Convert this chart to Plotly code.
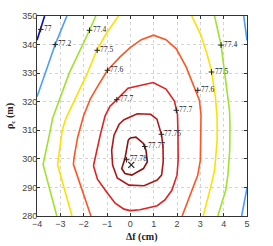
import plotly.graph_objects as go

# ---- contour data (Δf in cm, ρc in m) ----
c77_x = [-3.675, -4.0]
c77_y = [350, 341.5]

c772_left_x = [-2.72, -3.22, -4.0]
c772_left_y = [350, 340, 321.7]
c772_top_x = [4.86, 5.0]
c772_top_y = [350, 341.5]
c772_bot_x = [5.0, 4.77]
c772_bot_y = [289.8, 280]

c774_left_x = [-1.48, -1.75, -2.62, -3.33, -3.43, -3.55, -3.74, -3.15]
c774_left_y = [350, 345, 330, 314.2, 310, 305, 298, 280]
c774_right_x = [3.61, 3.89, 4.10, 4.25, 4.27, 4.26, 4.18, 4.09, 3.75]
c774_right_y = [350, 339.8, 326.4, 317, 311.8, 303, 294.3, 289.1, 280]

c775_left_x = [-0.51, -1.05, -1.44, -1.84, -2.76, -2.92, -3.12, -2.50]
c775_left_y = [350, 343.6, 338, 330, 314.2, 310, 298, 280]
c775_right_x = [2.63, 3.01, 3.29, 3.48, 3.65, 3.72, 3.72, 3.66, 3.61, 3.44, 3.12]
c775_right_y = [350, 343.6, 336.6, 330.7, 321.5, 314.2, 306.5, 299.5, 296, 290, 280]

c776_x = [-1.69, -2.19, -2.44, -2.41, -2.26, -2.01, -1.72, -1.37, -0.98, -0.44, -0.01,
          0.47, 0.99, 1.53, 1.97, 2.39, 2.75, 2.96, 3.03, 3.03, 3.00, 2.89, 2.59, 2.22]
c776_y = [280, 292.3, 298.1, 300.5, 307.5, 314.9, 320.9, 325.8, 331.0, 335.7, 338.9,
          341.7, 343.3, 341.7, 338.5, 332.2, 325.1, 320.5, 315.3, 307.6, 299.5, 294.3, 288.0, 280]

c777_x = [-1.58, -1.48, -1.29, -1.08, -0.87, -0.56, -0.10, 0.98, 1.53, 1.89, 2.02, 2.04,
          2.05, 2.00, 1.78, 1.48, 1.15, 0.41, -0.01, -0.27, -0.65, -1.01, -1.41, -1.58]
c777_y = [297.6, 301.6, 308.3, 315.1, 318.4, 320.9, 324.7, 326.7, 324.4, 320.2, 315.6, 310.0,
          299.5, 294.3, 289.0, 285.6, 283.6, 282.2, 281.9, 282.4, 284.5, 288.3, 292.9, 297.6]

c7775_x = [-0.06, 0.30, 0.87, 1.14, 1.34, 1.40, 1.41, 1.34, 1.15, 0.59, -0.06, -0.56,
           -0.76, -0.80, -0.70, -0.48, -0.27, -0.06]
c7775_y = [314.5, 315.8, 315.6, 313.9, 308.3, 304.1, 299.0, 294.3, 292.6, 290.6, 290.8, 293.3,
           297.8, 303.0, 308.3, 312.1, 313.7, 314.5]

c7777_x = [-0.01, 0.24, 0.56, 0.67, 0.73, 0.56, 0.06, -0.23, -0.37, -0.23, -0.09, -0.01]
c7777_y = [307.3, 307.6, 305.4, 303.0, 299.0, 296.6, 294.3, 294.9, 296.6, 300.1, 306.5, 307.3]

label_text = ["77", "77.2", "77.4", "77.5", "77.6", "77.7", "77.4", "77.5", "77.6", "77.7",
              "77.75", "77.77", "77.78"]
label_x = [-3.84, -3.22, -1.75, -1.42, -0.98, -0.58, 3.89, 3.48, 2.89, 1.97, 1.33, 0.62, -0.16]
label_y = [345.3, 340, 345, 338, 331, 320.7, 339.8, 330.4, 324, 317, 308.6, 304.3, 299.7]

opt_x = [0.04]
opt_y = [297.9]

x_ticks = [-4, -3, -2, -1, 0, 1, 2, 3, 4, 5]
y_ticks = [280, 290, 300, 310, 320, 330, 340, 350]

# ---- styles ----
col = {
    "77": "#0010c8",
    "77.2": "#4a9cff",
    "77.4": "#9fe22e",
    "77.5": "#ffe000",
    "77.6": "#ff5522",
    "77.7": "#e02222",
    "77.75": "#b01818",
    "77.77": "#8c1010",
}

fig = go.Figure()

def add_line(xs, ys, level):
    fig.add_trace(go.Scatter(x=xs, y=ys, mode="lines",
                             line=dict(color=col[level], width=1.6),
                             hoverinfo="skip", showlegend=False))

add_line(c77_x, c77_y, "77")
add_line(c772_left_x, c772_left_y, "77.2")
add_line(c772_top_x, c772_top_y, "77.2")
add_line(c772_bot_x, c772_bot_y, "77.2")
add_line(c774_left_x, c774_left_y, "77.4")
add_line(c774_right_x, c774_right_y, "77.4")
add_line(c775_left_x, c775_left_y, "77.5")
add_line(c775_right_x, c775_right_y, "77.5")
add_line(c776_x, c776_y, "77.6")
add_line(c777_x, c777_y, "77.7")
add_line(c7775_x, c7775_y, "77.75")
add_line(c7777_x, c7777_y, "77.77")

# label markers
fig.add_trace(go.Scatter(x=label_x, y=label_y, mode="markers",
                         marker=dict(symbol="cross-thin", size=4,
                                     line=dict(color="#222", width=1)),
                         hoverinfo="skip", showlegend=False))
fig.add_trace(go.Scatter(x=opt_x, y=opt_y, mode="markers",
                         marker=dict(symbol="x-thin", size=6,
                                     line=dict(color="#222", width=1.2)),
                         hoverinfo="skip", showlegend=False))

for t, lx, ly in zip(label_text, label_x, label_y):
    fig.add_annotation(x=lx, y=ly, text=t, showarrow=False, xanchor="left",
                       yanchor="middle", xshift=1, yshift=1,
                       font=dict(family="Liberation Serif", size=7.5, color="#222"))

axis_common = dict(showgrid=True, gridcolor="#d4d4d4", griddash="dot", gridwidth=1,
                   showline=True, linecolor="#333", linewidth=1, mirror="ticks",
                   ticks="inside", ticklen=3, tickcolor="#333", zeroline=False,
                   automargin=False,
                   tickfont=dict(family="Liberation Sans", size=9, color="#444"))

fig.update_xaxes(range=[-4, 5], tickvals=x_ticks,
                 ticktext=["\u2212" + str(-v) if v < 0 else str(v) for v in x_ticks],
                 ticklabelstandoff=-1, **axis_common)
fig.update_yaxes(range=[280, 350], tickvals=y_ticks, ticklabelstandoff=-3, **axis_common)

fig.add_annotation(xref="paper", yref="paper", x=0.5, y=0, yshift=-21, xanchor="center",
                   yanchor="middle", showarrow=False, text="<b>\u0394f (cm)</b>",
                   font=dict(family="Liberation Serif", size=10, color="#222"))
fig.add_annotation(xref="paper", yref="paper", x=0, y=0.5, xshift=-27, xanchor="center",
                   yanchor="middle", showarrow=False, textangle=-90,
                   text="<b>\u03c1<sub>c</sub> (m)</b>",
                   font=dict(family="Liberation Serif", size=10, color="#222"))

fig.update_layout(width=273, height=246,
                  margin=dict(l=37, r=26, t=16, b=30, autoexpand=False),
                  paper_bgcolor="white", plot_bgcolor="white")

fig.write_html("out.html", config={"displayModeBar": False},
               post_script="document.body.style.margin='0';document.body.style.padding='0';")
